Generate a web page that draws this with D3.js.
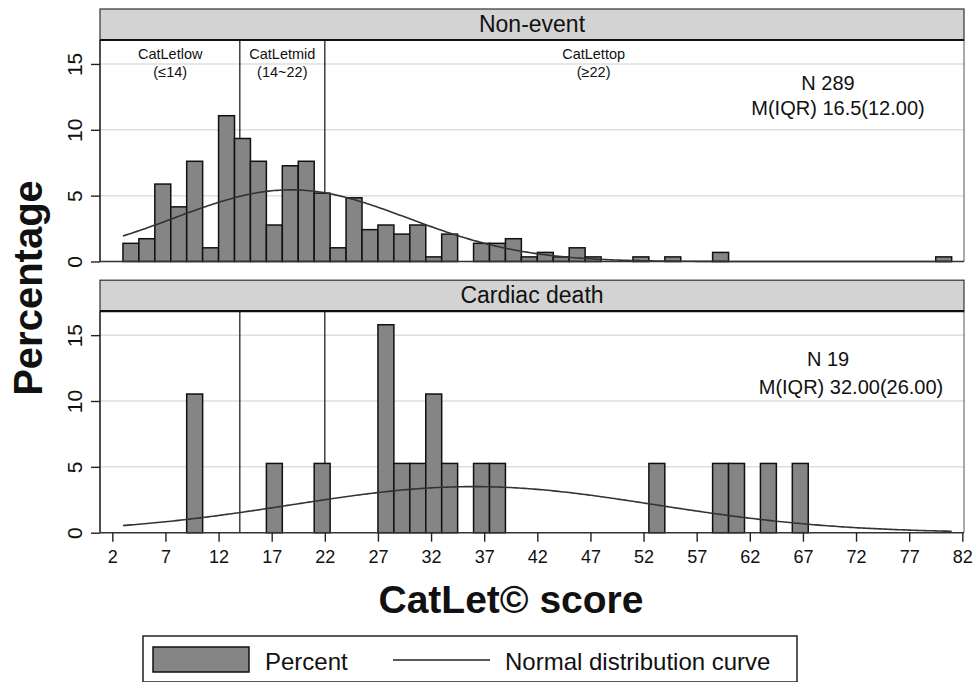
<!DOCTYPE html>
<html>
<head>
<meta charset="utf-8">
<script src="https://cdn.jsdelivr.net/npm/d3@7"></script>
<style>
  body { margin: 0; background: #fff; }
  svg { font-family: "Liberation Sans", Arial, sans-serif; }
</style>
</head>
<body>
<div id="chart"></div>
<script>
// histogram bins (left edge of each 1.5-wide bin)
var binLeft = [3, 4.5, 6, 7.5, 9, 10.5, 12, 13.5, 15, 16.5, 18, 19.5, 21, 22.5, 24, 25.5, 27, 28.5, 30, 31.5,
               33, 34.5, 36, 37.5, 39, 40.5, 42, 43.5, 45, 46.5, 48, 49.5, 51, 52.5, 54, 55.5, 57, 58.5, 60, 61.5,
               63, 64.5, 66, 67.5, 69, 70.5, 72, 73.5, 75, 76.5, 78, 79.5];
var binWidth = 1.5;

var pctNonEvent = [1.38, 1.73, 5.88, 4.15, 7.61, 1.04, 11.07, 9.34, 7.61, 2.77, 7.27, 7.61, 5.19, 1.04, 4.84, 2.42, 2.77, 2.08, 2.77, 0.35,
                   2.08, 0, 1.38, 1.38, 1.73, 0.35, 0.69, 0.35, 1.04, 0.35, 0, 0, 0.35, 0, 0.35, 0, 0, 0.69, 0, 0,
                   0, 0, 0, 0, 0, 0, 0, 0, 0, 0, 0, 0.35];
var pctCardiac = [0, 0, 0, 0, 10.53, 0, 0, 0, 0, 5.26, 0, 0, 5.26, 0, 0, 0, 15.79, 5.26, 5.26, 10.53,
                  5.26, 0, 5.26, 5.26, 0, 0, 0, 0, 0, 0, 0, 0, 0, 5.26, 0, 0, 0, 5.26, 5.26, 0,
                  5.26, 0, 5.26, 0, 0, 0, 0, 0, 0, 0, 0, 0];

var panelNames = ["Non-event", "Cardiac death"];
var statN = ["N 289", "N 19"];
var statM = ["M(IQR) 16.5(12.00)", "M(IQR) 32.00(26.00)"];
var normMean = [18.8, 36];
var normSD = [11, 17.1];
var curveRange = [3, 81];

var cutoffs = [14, 22];
var zoneNames = ["CatLetlow", "CatLetmid", "CatLettop"];
var zoneRanges = ["(\u226414)", "(14~22)", "(\u226522)"];
var zoneCenters = [7.45, 18, 47.3];

var xTicks = [2, 7, 12, 17, 22, 27, 32, 37, 42, 47, 52, 57, 62, 67, 72, 77, 82];
var yTicks = [0, 5, 10, 15];

var W = 974, H = 682;
var svg = d3.select("#chart").append("svg").attr("width", W).attr("height", H);

var x = d3.scaleLinear().domain([0.84, 82.16]).range([100, 964]);
var plotH = 221.5, stripH = 31;
var panelTops = [40, 311.2];
var barFill = "#858585";

panelNames.forEach(function(name, p) {
    var pct = p === 0 ? pctNonEvent : pctCardiac;
    var top = panelTops[p];
    var y = d3.scaleLinear().domain([0, plotH / 13.17]).range([top + plotH, top]);
    var g = svg.append("g");

    // gridlines
    g.selectAll(".grid").data(yTicks.slice(1)).enter().append("line")
        .attr("x1", x.range()[0]).attr("x2", x.range()[1])
        .attr("y1", d => y(d)).attr("y2", d => y(d))
        .attr("stroke", "#dedede").attr("stroke-width", 1.5);

    // right border
    g.append("line").attr("x1", 964).attr("x2", 964).attr("y1", top).attr("y2", y(0))
        .attr("stroke", "#555").attr("stroke-width", 1);

    // cutoff lines (behind bars)
    g.selectAll(".cut").data(cutoffs).enter().append("line")
        .attr("x1", d => x(d)).attr("x2", d => x(d))
        .attr("y1", top).attr("y2", y(0))
        .attr("stroke", "#222").attr("stroke-width", 1.3);

    // bars
    var bars = binLeft.map((b, i) => ({ x0: b, v: pct[i] })).filter(d => d.v > 0);
    g.selectAll(".bar").data(bars).enter().append("rect")
        .attr("x", d => x(d.x0))
        .attr("width", d => x(d.x0 + binWidth) - x(d.x0))
        .attr("y", d => y(d.v))
        .attr("height", d => y(0) - y(d.v))
        .attr("fill", barFill).attr("stroke", "#111").attr("stroke-width", 1.5);

    // normal distribution curve
    var pts = d3.range(curveRange[0], curveRange[1] + 0.01, 0.25).map(function(v) {
        var z = (v - normMean[p]) / normSD[p];
        return [v, 100 * binWidth * Math.exp(-0.5 * z * z) / (normSD[p] * Math.sqrt(2 * Math.PI))];
    });
    g.append("path").datum(pts)
        .attr("d", d3.line().x(d => x(d[0])).y(d => y(d[1])))
        .attr("fill", "none").attr("stroke", "#333").attr("stroke-width", 1.6);

    // baseline
    g.append("line").attr("x1", 100).attr("x2", 964).attr("y1", y(0)).attr("y2", y(0))
        .attr("stroke", "#333").attr("stroke-width", 1.6);

    // y axis
    var yAxis = g.append("g").attr("transform", "translate(100,0)")
        .call(d3.axisLeft(y).tickValues(yTicks).tickSize(9).tickSizeOuter(0));
    yAxis.select(".domain").attr("stroke", "#222").attr("stroke-width", 1.6)
        .attr("d", "M0," + y(0) + "V" + top);
    yAxis.selectAll(".tick line").attr("stroke", "#222").attr("stroke-width", 1.4);
    yAxis.selectAll(".tick text")
        .attr("transform", "rotate(-90)")
        .attr("x", 0).attr("y", -18).attr("dy", 0)
        .attr("text-anchor", "middle")
        .style("font-size", "21px").attr("fill", "#111")
        .style("font-family", "'Liberation Sans', Arial, sans-serif");

    // strip header
    g.append("rect").attr("x", 100).attr("y", top - stripH).attr("width", 864).attr("height", stripH)
        .attr("fill", "#d3d3d3").attr("stroke", "#333").attr("stroke-width", 1.2);
    g.append("line").attr("x1", 100).attr("x2", 964).attr("y1", top).attr("y2", top)
        .attr("stroke", "#111").attr("stroke-width", 2.2);
    g.append("text").attr("x", 532).attr("y", top - 8.5).attr("text-anchor", "middle")
        .style("font-size", "23px").attr("fill", "#111").text(name);

    // N and median(IQR)
    var statX = p === 0 ? [828, 838] : [828, 851];
    var statY = p === 0 ? [90, 115] : [366, 394];
    g.append("text").attr("x", statX[0]).attr("y", statY[0]).attr("text-anchor", "middle")
        .style("font-size", "20px").attr("fill", "#111").text(statN[p]);
    g.append("text").attr("x", statX[1]).attr("y", statY[1]).attr("text-anchor", "middle")
        .style("font-size", "20px").attr("fill", "#111").text(statM[p]);

    if (p === 0) {
        g.selectAll(".zone").data(zoneNames).enter().append("text")
            .attr("x", (d, i) => x(zoneCenters[i])).attr("y", 59)
            .attr("text-anchor", "middle").style("font-size", "14.5px").attr("fill", "#111")
            .text(d => d);
        g.selectAll(".zoneR").data(zoneRanges).enter().append("text")
            .attr("x", (d, i) => x(zoneCenters[i])).attr("y", 77)
            .attr("text-anchor", "middle").style("font-size", "14.5px").attr("fill", "#111")
            .text(d => d);
    } else {
        var xAxis = g.append("g").attr("transform", "translate(0," + y(0) + ")")
            .call(d3.axisBottom(x).tickValues(xTicks).tickSize(9).tickSizeOuter(0));
        xAxis.select(".domain").remove();
        xAxis.selectAll(".tick line").attr("stroke", "#222").attr("stroke-width", 1.4);
        xAxis.selectAll(".tick text").attr("y", 18).attr("fill", "#111")
            .style("font-size", "18px")
            .style("font-family", "'Liberation Sans', Arial, sans-serif");
    }
});

// axis titles
svg.append("text").attr("x", 511).attr("y", 613).attr("text-anchor", "middle")
    .style("font-size", "39px").style("font-weight", "bold").attr("fill", "#111")
    .text("CatLet\u00a9 score");
svg.append("text").attr("transform", "translate(42,288) rotate(-90)")
    .attr("text-anchor", "middle")
    .style("font-size", "40px").style("font-weight", "bold").attr("fill", "#111")
    .text("Percentage");

// legend
var leg = svg.append("g");
leg.append("rect").attr("x", 143).attr("y", 636).attr("width", 654).attr("height", 46)
    .attr("fill", "#fff").attr("stroke", "#222").attr("stroke-width", 1.5);
leg.append("rect").attr("x", 153).attr("y", 647).attr("width", 96).attr("height", 25)
    .attr("fill", barFill).attr("stroke", "#111").attr("stroke-width", 1.5);
leg.append("text").attr("x", 265).attr("y", 670).style("font-size", "24px").attr("fill", "#111").text("Percent");
leg.append("line").attr("x1", 393).attr("x2", 490).attr("y1", 660).attr("y2", 660)
    .attr("stroke", "#222").attr("stroke-width", 1.6);
leg.append("text").attr("x", 505).attr("y", 670).style("font-size", "24px").attr("fill", "#111")
    .text("Normal distribution curve");
</script>
</body>
</html>
